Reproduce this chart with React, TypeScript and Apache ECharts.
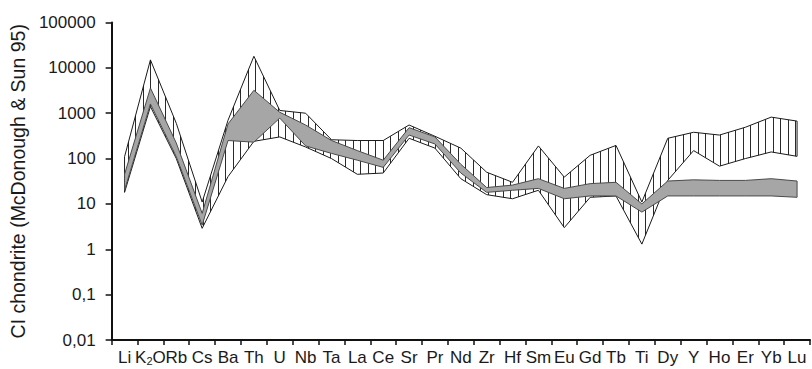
import { useEffect, useRef } from 'react';
import * as echarts from 'echarts';

const categories = ['Li', 'K2O', 'Rb', 'Cs', 'Ba', 'Th', 'U', 'Nb', 'Ta', 'La', 'Ce', 'Sr', 'Pr', 'Nd', 'Zr', 'Hf', 'Sm', 'Eu', 'Gd', 'Tb', 'Ti', 'Dy', 'Y', 'Ho', 'Er', 'Yb', 'Lu'];

// hatched field (range of sample group 1)
const hatchUpper = [110, 15000, 600, 11, 700, 18000, 1150, 1000, 260, 250, 250, 550, 310, 170, 50, 30, 190, 39, 118, 195, 11, 280, 380, 330, 490, 820, 670];
const hatchLower = [18, 1400, 100, 2.9, 40, 240, 300, 180, 100, 45, 48, 280, 170, 36, 16, 13, 20, 3, 14, 15, 1.3, 33, 150, 68, 100, 140, 112];

// grey field (range of sample group 2)
const grayUpper = [45, 3600, 220, 6.2, 580, 3200, 1050, 550, 250, 150, 92, 480, 300, 75, 23, 26, 36, 22, 28, 30, 10, 32, 34, 33, 33, 36, 32];
const grayLower = [20, 1600, 110, 3.4, 250, 230, 780, 190, 130, 92, 64, 330, 210, 48, 18, 20, 22, 13, 15, 15, 6.6, 15, 15, 15, 15, 15, 14];

const yTickLabels = ['0,01', '0,1', '1', '10', '100', '1000', '10000', '100000'];
const yAxisTitle = 'CI chondrite (McDonough & Sun 95)';

const FONT = '"Liberation Sans", Arial, sans-serif';

function interp(pts: number[][], x: number): number {
  for (let k = 0; k < pts.length - 1; k++) {
    const a = pts[k];
    const b = pts[k + 1];
    if (x >= a[0] && x <= b[0]) {
      const t = (x - a[0]) / (b[0] - a[0]);
      return a[1] + t * (b[1] - a[1]);
    }
  }
  return pts[pts.length - 1][1];
}

export default function App() {
  const ref = useRef<HTMLDivElement>(null);

  useEffect(() => {
    if (!ref.current) return;
    const chart = echarts.init(ref.current, undefined, { renderer: 'svg' });

    const hatchRender = (params: any, api: any) => {
      if (params.dataIndex !== 0) return null;
      const up = categories.map((_, i) => api.coord([i, hatchUpper[i]]));
      const lo = categories.map((_, i) => api.coord([i, hatchLower[i]]));
      const children: any[] = [];
      const x0 = up[0][0];
      const x1 = up[up.length - 1][0];
      for (let x = x0 + 3; x < x1; x += 7.5) {
        const xx = Math.round(x) + 0.5;
        children.push({
          type: 'line',
          shape: { x1: xx, y1: interp(up, xx), x2: xx, y2: interp(lo, xx) },
          style: { stroke: '#2a2a2a', lineWidth: 1 },
        });
      }
      children.push({
        type: 'polygon',
        shape: { points: [...up, ...lo.slice().reverse()] },
        style: { fill: 'none', stroke: '#1a1a1a', lineWidth: 1 },
      });
      return { type: 'group', children };
    };

    const grayRender = (params: any, api: any) => {
      if (params.dataIndex !== 0) return null;
      const up = categories.map((_, i) => api.coord([i, grayUpper[i]]));
      const lo = categories.map((_, i) => api.coord([i, grayLower[i]]));
      return {
        type: 'polygon',
        shape: { points: [...up, ...lo.slice().reverse()] },
        style: { fill: '#a6a6a6', stroke: '#4a4a4a', lineWidth: 1 },
      };
    };

    chart.setOption({
      animation: false,
      backgroundColor: '#ffffff',
      grid: { left: 108, right: 2, top: 22.5, bottom: 29 },
      xAxis: {
        type: 'category',
        data: categories,
        boundaryGap: true,
        axisLine: { lineStyle: { color: '#111', width: 2 } },
        axisTick: { show: true, interval: 0, length: 5, lineStyle: { color: '#111', width: 1.5 } },
        axisLabel: {
          interval: 0,
          hideOverlap: false,
          margin: 9,
          color: '#1a1a1a',
          fontFamily: FONT,
          fontSize: 17,
          formatter: (v: string) => (v === 'K2O' ? 'K{sub|2}O' : v),
          rich: {
            sub: { fontSize: 11, fontFamily: FONT, color: '#1a1a1a', verticalAlign: 'bottom' },
          },
        },
        splitLine: { show: false },
      },
      yAxis: {
        type: 'log',
        logBase: 10,
        min: 0.01,
        max: 100000,
        name: yAxisTitle,
        nameLocation: 'middle',
        nameRotate: 90,
        nameGap: 74,
        nameTextStyle: { fontFamily: FONT, fontSize: 19.5, color: '#1a1a1a' },
        axisLine: { show: true, lineStyle: { color: '#111', width: 2 } },
        axisTick: { show: true, length: 6, lineStyle: { color: '#111', width: 1.5 } },
        axisLabel: {
          margin: 16,
          color: '#1a1a1a',
          fontFamily: FONT,
          fontSize: 17,
          formatter: (v: number) => {
            const idx = Math.round(Math.log10(v)) + 2;
            return yTickLabels[idx] ?? '';
          },
        },
        splitLine: { show: false },
        minorTick: { show: false },
      },
      series: [
        {
          type: 'custom',
          name: 'hatched',
          renderItem: hatchRender,
          data: [[0, 1]],
          encode: { x: 0, y: 1 },
          z: 2,
          silent: true,
        },
        {
          type: 'custom',
          name: 'grey',
          renderItem: grayRender,
          data: [[0, 1]],
          encode: { x: 0, y: 1 },
          z: 3,
          silent: true,
        },
      ],
    });

    return () => chart.dispose();
  }, []);

  return (
    <div
      ref={ref}
      style={{ position: 'absolute', left: 0, top: 0, width: 812, height: 369 }}
    />
  );
}
